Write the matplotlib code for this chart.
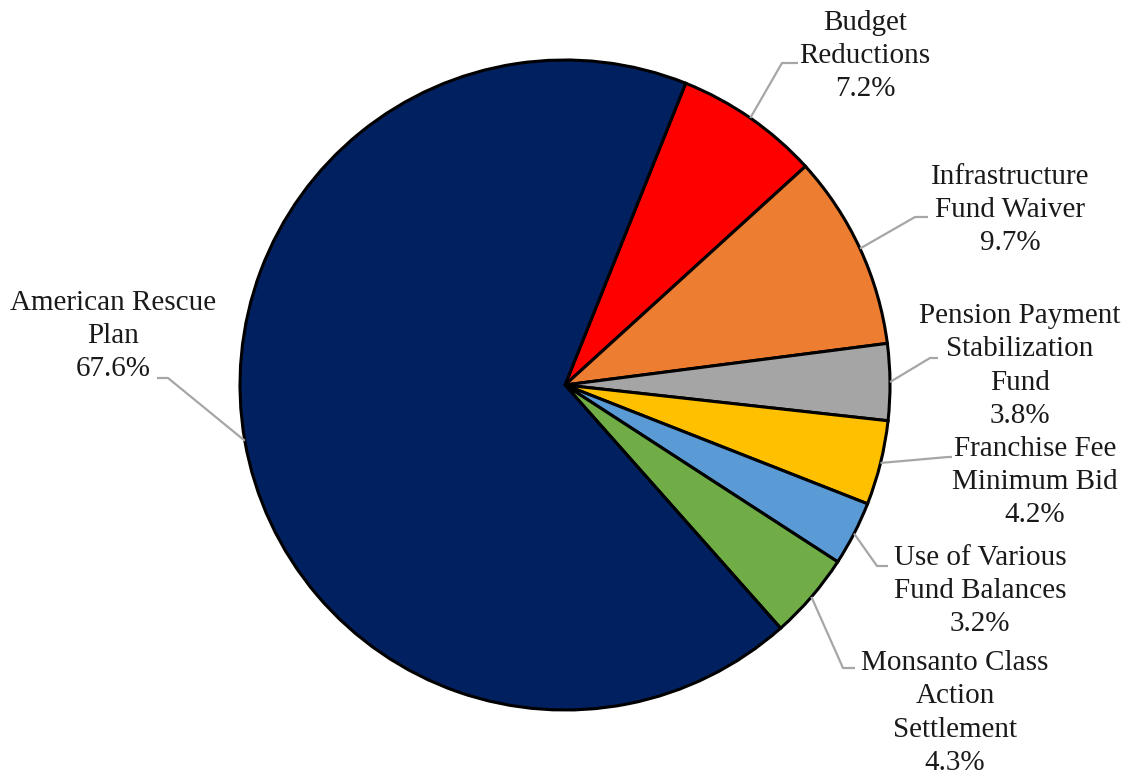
import numpy as np
import matplotlib
matplotlib.use("Agg")
import matplotlib.pyplot as plt

labels = ["Budget\nReductions", "Infrastructure\nFund Waiver", "Pension Payment\nStabilization\nFund",
          "Franchise Fee\nMinimum Bid", "Use of Various\nFund Balances", "Monsanto Class\nAction\nSettlement",
          "American Rescue\nPlan"]
values = [7.2, 9.7, 3.8, 4.2, 3.2, 4.3, 67.6]
colors = ["#FF0000", "#ED7D31", "#A5A5A5", "#FFC000", "#5B9BD5", "#70AD47", "#002060"]

W, H = 1125, 778
# layout (pixel coords, y from top): text center, elbow point, horizontal end
text_pos = [(865, 56), (1010, 210), (1020, 366), (1035, 482), (980, 591), (955, 713), (113, 336)]
elbow = [(782, 63), (915, 217), (930, 358), (948, 457), (877, 566), (843, 668), (168, 378)]
hend = [(798, 63), (928, 217), (938, 358), (952, 457), (888, 566), (855, 668), (157, 378)]

cx, cy, R = 565, 385, 325
start = 68.2

fig = plt.figure(figsize=(W / 100, H / 100), dpi=100)
ax = fig.add_axes([0, 0, 1, 1])
ax.set_xlim(0, W)
ax.set_ylim(0, H)
ax.axis("off")

wedges, _ = ax.pie(values, colors=colors, startangle=start, counterclock=False,
                   center=(cx, H - cy), radius=R,
                   wedgeprops=dict(edgecolor="black", linewidth=2.2))
ax.set_xlim(0, W)
ax.set_ylim(0, H)
ax.set_aspect("equal")

for w, lab, v, tp, el, he in zip(wedges, labels, values, text_pos, elbow, hend):
    mid = np.deg2rad((w.theta1 + w.theta2) / 2)
    ex = cx + R * np.cos(mid)
    ey = H - cy + R * np.sin(mid)
    ax.plot([ex, el[0], he[0]], [ey, H - el[1], H - he[1]], color="#A6A6A6", lw=1.6,
            solid_capstyle="butt", zorder=1)
    ax.text(tp[0], H - tp[1], f"{lab}\n{v:.1f}%", ha="center", va="center",
            fontsize=21, family="Liberation Serif", color="#1a1a1a", linespacing=1.36)

fig.savefig("out.png", dpi=100)
